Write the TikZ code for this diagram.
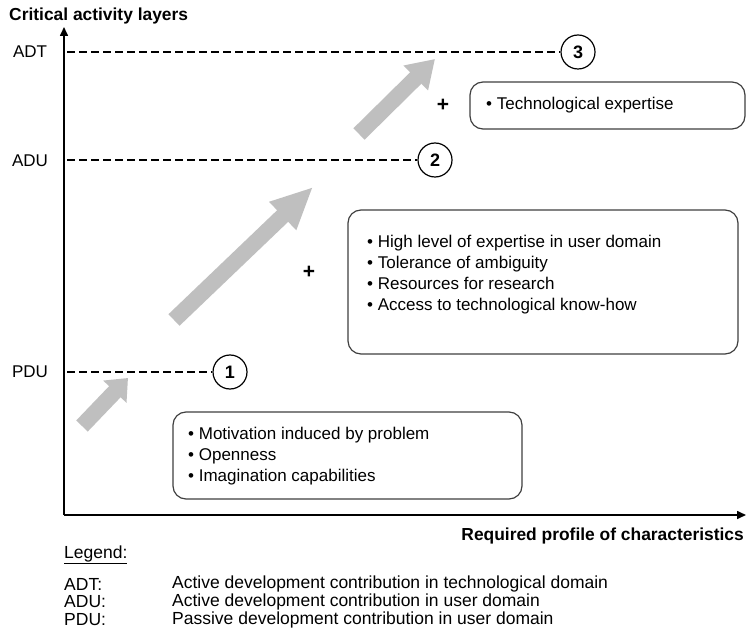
\documentclass[tikz,border=0pt]{standalone}
\usepackage{fontspec}
\setmainfont{Liberation Sans}
\usetikzlibrary{arrows.meta}
\begin{document}
\begin{tikzpicture}[x=1pt,y=-1pt,
  txt/.style={font=\fontsize{17}{21}\selectfont, inner sep=0pt},
  lgd/.style={font=\fontsize{17.5}{18}\selectfont, inner sep=0pt, anchor=west},
  axislbl/.style={font=\fontsize{17.4}{21}\selectfont\bfseries, inner sep=0pt},
  axis/.style={line width=1.6pt, -{Triangle[length=9pt,width=8pt]}},
  level/.style={dashed, dash pattern=on 8pt off 4pt, line width=1.6pt},
  marker/.style={circle, draw, line width=1.2pt, minimum size=34pt, inner sep=0pt,
    font=\fontsize{18}{20}\selectfont\bfseries},
  listbox/.style={draw=black!75, line width=1.2pt, rounded corners=13pt},
  fatarrow/.style={draw=black!25, line width=16pt},
  plus/.style={font=\fontsize{21}{22}\selectfont\bfseries, inner sep=0pt}
]
\useasboundingbox[fill=white] (0,0) rectangle (747,636);

% axes
\coordinate (origin) at (64,515);
\coordinate (ytip) at (64,27);
\coordinate (xtip) at (746,515);
\draw[axis] (origin) -- (ytip);
\draw[axis] (origin) -- (xtip);
\node[axislbl, anchor=west] (ytitle) at (9,16) {Critical activity layers};
\node[axislbl, anchor=east] (xtitle) at (744,536) {Required profile of characteristics};

% layer labels
\node[txt] (lADT) at (30,52) {ADT};
\node[txt] (lADU) at (30,161) {ADU};
\node[txt] (lPDU) at (30,372) {PDU};

% level markers
\node[marker] (m3) at (578,52) {3};
\node[marker] (m2) at (435,160) {2};
\node[marker] (m1) at (230,372) {1};
\coordinate (s3) at (67,52);
\coordinate (s2) at (67,160);
\coordinate (s1) at (67,372);
\draw[level] (s3) -- (m3);
\draw[level] (s2) -- (m2);
\draw[level] (s1) -- (m1);

% grey progression arrows
\coordinate (a1s) at (82,426);  \coordinate (a1e) at (128,378);
\coordinate (a2s) at (174,320); \coordinate (a2e) at (313,187);
\coordinate (a3s) at (359,134); \coordinate (a3e) at (435,59);
\draw[fatarrow, -{Triangle[width=31pt,length=19pt]}, black!25] (a1s) -- (a1e);
\draw[fatarrow, -{Triangle[width=36pt,length=42pt]}, black!25] (a2s) -- (a2e);
\draw[fatarrow, -{Triangle[width=33pt,length=27pt]}, black!25] (a3s) -- (a3e);

% characteristic boxes
\node[listbox, minimum width=275pt, minimum height=47pt] (boxT) at (607.5,105.5) {};
\node[listbox, minimum width=390pt, minimum height=144pt] (boxM) at (543,282) {};
\node[listbox, minimum width=349pt, minimum height=87pt] (boxB) at (347.5,455.5) {};

\node[txt, anchor=west] (tT) at (486,105) {• Technological expertise};
\node[txt, anchor=north west, align=left] (tM) at (367,235)
  {• High level of expertise in user domain\\
   • Tolerance of ambiguity\\
   • Resources for research\\
   • Access to technological know-how};
\node[txt, anchor=north west, align=left] (tB) at (188,427)
  {• Motivation induced by problem\\
   • Openness\\
   • Imagination capabilities};

\node[plus] (p3) at (443,105) {+};
\node[plus] (p2) at (309,272) {+};

% legend
\node[lgd] (leg) at (64,555) {\underline{Legend:}};
\node[lgd] (kADT) at (64,584) {ADT:};
\node[lgd] (kADU) at (64,602) {ADU:};
\node[lgd] (kPDU) at (64,620) {PDU:};
\node[lgd] (dADT) at (172,584) {Active development contribution in technological domain};
\node[lgd] (dADU) at (172,602) {Active development contribution in user domain};
\node[lgd] (dPDU) at (172,620) {Passive development contribution in user domain};
\end{tikzpicture}
\end{document}
